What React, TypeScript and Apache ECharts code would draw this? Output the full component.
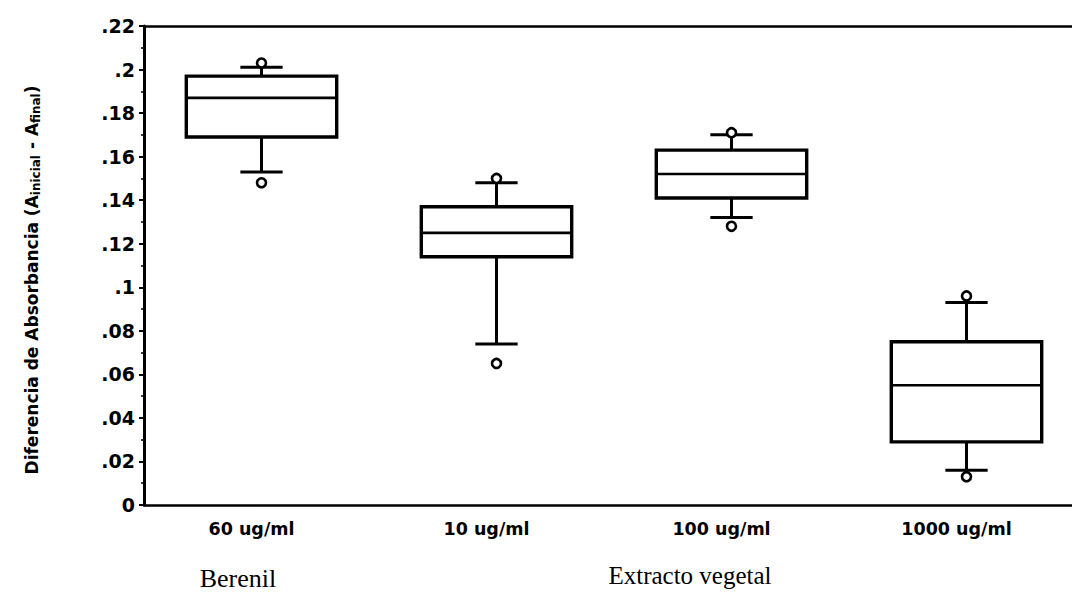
import React, { useEffect, useRef } from "react";
import * as echarts from "echarts";

const categories = ["60 ug/ml", "10 ug/ml", "100 ug/ml", "1000 ug/ml"];
const lowerWhisker = [0.153, 0.074, 0.132, 0.016];
const q1 = [0.169, 0.114, 0.141, 0.029];
const median = [0.187, 0.125, 0.152, 0.055];
const q3 = [0.197, 0.137, 0.163, 0.075];
const upperWhisker = [0.201, 0.148, 0.17, 0.093];
const upperPoints = [0.203, 0.15, 0.171, 0.096];
const lowerPoints = [0.148, 0.065, 0.128, 0.013];
const groupLabels = ["Berenil", "Extracto vegetal"];

const yFmt = (v: number) =>
  v === 0 ? "0" : v.toFixed(2).replace(/0$/, "").replace(/^0/, "");

export default function App() {
  const ref = useRef<HTMLDivElement>(null);
  useEffect(() => {
    if (!ref.current) return;
    const chart = echarts.init(ref.current, undefined, { renderer: "svg" });
    const boxData = categories.map((_, i) => [
      i,
      lowerWhisker[i],
      q1[i],
      median[i],
      q3[i],
      upperWhisker[i],
    ]);
    const pointData: number[][] = [];
    categories.forEach((_, i) => {
      pointData.push([i, upperPoints[i]]);
      pointData.push([i, lowerPoints[i]]);
    });
    const black = "#000";
    chart.setOption({
      animation: false,
      backgroundColor: "#fff",
      grid: { left: 144, top: 26, height: 479, width: 940 },
      xAxis: [
        {
          type: "category",
          data: categories,
          boundaryGap: true,
          axisLine: { lineStyle: { color: black, width: 2.5 } },
          axisTick: { alignWithLabel: true, length: 9, lineStyle: { color: black, width: 2 } },
          axisLabel: {
            color: black,
            fontFamily: "DejaVu Sans",
            fontWeight: "bold",
            fontSize: 17.5,
            margin: 15,
            padding: [0, 20, 0, 0],
          },
          splitLine: { show: false },
        },
        {
          type: "category",
          data: categories,
          position: "top",
          boundaryGap: true,
          axisLine: { lineStyle: { color: black, width: 2.5 } },
          axisTick: { alignWithLabel: true, length: 8, lineStyle: { color: black, width: 2 } },
          axisLabel: { show: false },
          splitLine: { show: false },
        },
      ],
      yAxis: {
        type: "value",
        min: 0,
        max: 0.22,
        interval: 0.02,
        axisLine: { show: true, lineStyle: { color: black, width: 3 } },
        axisTick: { show: true, length: 5, lineStyle: { color: black, width: 2 } },
        minorTick: { show: true, splitNumber: 2, length: 3, lineStyle: { color: black, width: 1.5 } },
        splitLine: { show: false },
        axisLabel: {
          color: black,
          fontFamily: "DejaVu Sans",
          fontWeight: "bold",
          fontSize: 19,
          margin: 9,
          formatter: yFmt,
        },
      },
      graphic: [
        {
          type: "text",
          x: 32,
          y: 280,
          rotation: Math.PI / 2,
          style: {
            text: "Diferencia de Absorbancia (A{s|inicial} - A{s|final})",
            fontFamily: "DejaVu Sans",
            fontWeight: "bold",
            fontSize: 17,
            fill: black,
            align: "center",
            verticalAlign: "middle",
            rich: {
              s: { fontFamily: "DejaVu Sans", fontWeight: "bold", fontSize: 12, padding: [7, 0, 0, 0] },
            },
          },
        },
        {
          type: "text",
          x: 238,
          y: 578,
          style: {
            text: groupLabels[0],
            fontFamily: "Liberation Serif",
            fontSize: 26,
            fill: black,
            align: "center",
            verticalAlign: "middle",
          },
        },
        {
          type: "text",
          x: 690,
          y: 575,
          style: {
            text: groupLabels[1],
            fontFamily: "Liberation Serif",
            fontSize: 25,
            fill: black,
            align: "center",
            verticalAlign: "middle",
          },
        },
      ],
      series: [
        {
          type: "custom",
          xAxisIndex: 0,
          yAxisIndex: 0,
          data: boxData,
          encode: { x: 0, y: [1, 2, 3, 4, 5] },
          renderItem: (params: any, api: any) => {
            const c = api.value(0);
            const pLow = api.coord([c, api.value(1)]);
            const pQ1 = api.coord([c, api.value(2)]);
            const pMed = api.coord([c, api.value(3)]);
            const pQ3 = api.coord([c, api.value(4)]);
            const pHigh = api.coord([c, api.value(5)]);
            const band = api.size([1, 0])[0];
            const half = (band * 0.64) / 2;
            const cap = (band * 0.18) / 2;
            const x = pMed[0];
            const st = { stroke: black, lineWidth: 3, fill: null };
            return {
              type: "group",
              children: [
                {
                  type: "line",
                  shape: { x1: x, y1: pQ3[1], x2: x, y2: pHigh[1] },
                  style: st,
                },
                {
                  type: "line",
                  shape: { x1: x, y1: pQ1[1], x2: x, y2: pLow[1] },
                  style: st,
                },
                {
                  type: "line",
                  shape: { x1: x - cap, y1: pHigh[1], x2: x + cap, y2: pHigh[1] },
                  style: st,
                },
                {
                  type: "line",
                  shape: { x1: x - cap, y1: pLow[1], x2: x + cap, y2: pLow[1] },
                  style: st,
                },
                {
                  type: "rect",
                  shape: { x: x - half, y: pQ3[1], width: half * 2, height: pQ1[1] - pQ3[1] },
                  style: { stroke: black, lineWidth: 3.4, fill: "#fff" },
                },
                {
                  type: "line",
                  shape: { x1: x - half, y1: pMed[1], x2: x + half, y2: pMed[1] },
                  style: { stroke: black, lineWidth: 2.6 },
                },
              ],
            };
          },
          z: 2,
        },
        {
          type: "scatter",
          data: pointData,
          symbol: "circle",
          symbolSize: 9,
          itemStyle: { color: "#fff", borderColor: black, borderWidth: 2.6, opacity: 1 },
          z: 3,
        },
      ],
    });
    return () => chart.dispose();
  }, []);
  return (
    <div
      ref={ref}
      style={{ position: "fixed", left: 0, top: 0, width: 1100, height: 598, background: "#fff" }}
    />
  );
}
